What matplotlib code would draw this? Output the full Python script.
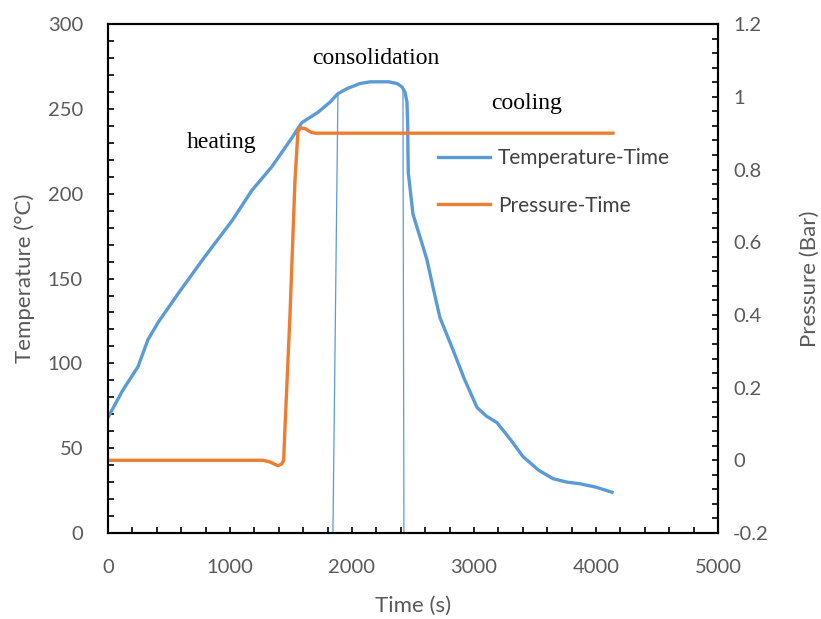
import matplotlib
matplotlib.use("Agg")
import matplotlib.pyplot as plt
from matplotlib.ticker import MultipleLocator

# temperature curve (time in s, temperature in C)
temp_time = [0, 120, 246, 328, 410, 574, 795, 1016, 1180, 1344, 1508, 1590,
             1721, 1820, 1885, 1960, 2066, 2150, 2230, 2300, 2369, 2410, 2434,
             2451, 2457, 2459, 2462, 2475, 2500, 2560, 2615, 2670, 2721, 2828,
             2920, 3025, 3100, 3189, 3300, 3402, 3530, 3648, 3760, 3869, 4000, 4131]
temp_vals = [68, 84, 98, 114, 124, 141, 163, 184, 202, 216, 233, 242,
             248, 254, 259, 262, 265, 266, 266, 266, 265, 263, 260,
             254, 240, 225, 212, 204, 188, 174, 161, 143, 127, 108,
             91, 74, 69, 65, 55, 45, 37, 32, 30, 29, 27, 24]

# pressure curve (time in s, pressure in bar)
pres_time = [0, 1270, 1330, 1393, 1425, 1440, 1451, 1492, 1533, 1557, 1580,
             1620, 1660, 1697, 2500, 3500, 4139]
pres_vals = [0, 0, -0.005, -0.015, -0.01, 0.0, 0.09, 0.40, 0.77, 0.905, 0.915,
             0.912, 0.903, 0.9, 0.9, 0.9, 0.9]

# stage boundaries (thin lines), start/end in (time, temperature)
bound1_t = [1844, 1885]
bound1_T = [0, 259]
bound2_t = [2426, 2418]
bound2_T = [0, 261]

blue = "#5B9BD5"
orange = "#ED7D31"
txt = "#595959"

plt.rcParams["font.family"] = ["Lato", "DejaVu Sans"]

fig = plt.figure(figsize=(8.21, 6.19), dpi=100)
ax = fig.add_axes([0.1315, 0.139, 0.743, 0.822])
ax2 = ax.twinx()

l1, = ax.plot(temp_time, temp_vals, color=blue, lw=2.4, label="Temperature-Time",
              zorder=3, solid_joinstyle="round")
ax.plot(bound1_t, bound1_T, color=blue, lw=0.9, zorder=2)
ax.plot(bound2_t, bound2_T, color=blue, lw=0.9, zorder=2)
l2, = ax2.plot(pres_time, pres_vals, color=orange, lw=2.4, label="Pressure-Time",
               solid_joinstyle="round")

ax.set_xlim(0, 5000)
ax.set_ylim(0, 300)
ax2.set_ylim(-0.2, 1.2)

ax.xaxis.set_major_locator(MultipleLocator(1000))
ax.xaxis.set_minor_locator(MultipleLocator(200))
ax.yaxis.set_major_locator(MultipleLocator(50))
ax.yaxis.set_minor_locator(MultipleLocator(10))
ax2.set_yticks([-0.2, 0, 0.2, 0.4, 0.6, 0.8, 1.0, 1.2])
ax2.set_yticklabels(["-0.2", "0", "0.2", "0.4", "0.6", "0.8", "1", "1.2"])
ax2.yaxis.set_minor_locator(MultipleLocator(0.04))

ax.tick_params(which="both", direction="in", length=4, width=1.2, top=False,
               right=False, labelsize=14.5, labelcolor=txt)
ax.tick_params(axis="x", pad=19)
ax.tick_params(axis="y", pad=18)
ax2.tick_params(axis="y", which="both", direction="in", length=4, width=1.2,
                labelsize=14.5, labelcolor=txt, pad=11)
ax2.tick_params(axis="x", which="both", top=False, bottom=False,
                labeltop=False, labelbottom=False)
for a in (ax, ax2):
    for s in a.spines.values():
        s.set_linewidth(1.5)
        s.set_color("black")

ax.set_xlabel("Time (s)", fontsize=16, color=txt, labelpad=14)
ax.set_ylabel("Temperature (°C)", fontsize=16, color=txt, labelpad=9)
ax2.set_ylabel("Pressure (Bar)", fontsize=16, color=txt, labelpad=22)

serif = ["Liberation Serif", "DejaVu Serif"]
ax.text(934, 230, "heating", family=serif, fontsize=17, ha="center", va="center")
ax.text(2197, 280, "consolidation", family=serif, fontsize=17, ha="center", va="center")
ax.text(3434, 253, "cooling", family=serif, fontsize=17, ha="center", va="center")

leg = ax.legend(handles=[l1, l2], loc="upper left", bbox_to_anchor=(0.528, 0.772),
                frameon=False, fontsize=15, handlelength=2.5, handletextpad=0.35,
                labelspacing=1.3, borderaxespad=0)
for t in leg.get_texts():
    t.set_color("#404040")

fig.savefig("out.png", dpi=100)
